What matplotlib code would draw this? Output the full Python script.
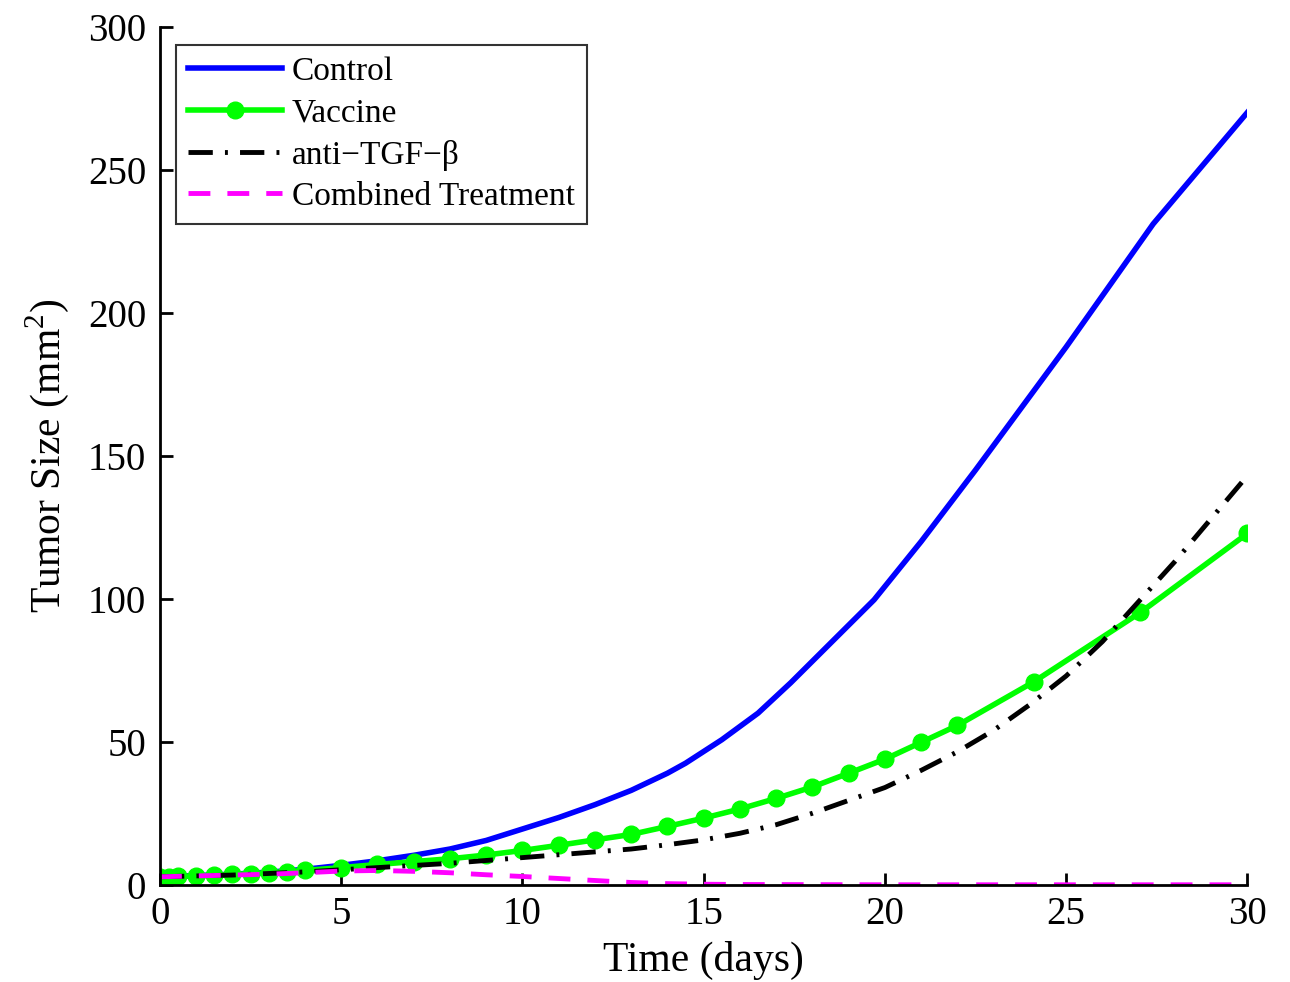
import matplotlib.pyplot as plt

plt.rcParams['font.family'] = ['Liberation Serif', 'DejaVu Serif']
plt.rcParams['mathtext.fontset'] = 'custom'
plt.rcParams['mathtext.rm'] = 'Liberation Serif'

# Control
t_ctrl = [0, 1, 2, 3, 4, 5, 6, 7, 8, 9, 10, 11, 12, 13, 14, 14.5, 15.5, 16.5, 17.4, 19.7, 21, 22.5, 25, 27.4, 30]
y_ctrl = [2.8, 3.2, 3.7, 4.4, 5.4, 6.8, 8.4, 10.3, 12.5, 15.5, 19.5, 23.5, 28, 33, 39, 42.5, 50.7, 60, 70.6, 99.6, 120, 145, 188, 231, 270]

# Vaccine
t_vac = [0, 0.25, 0.5, 1, 1.5, 2, 2.5, 3, 3.5, 4, 5, 6, 7, 8, 9, 10, 11, 12, 13, 14, 15, 16, 17, 18, 19, 20, 21, 22, 24.1, 27.05, 30]
y_vac = [2.8, 2.85, 2.9, 3.1, 3.3, 3.6, 3.9, 4.2, 4.6, 5.0, 6.0, 7.1, 8.1, 9.1, 10.4, 12.0, 13.8, 15.7, 17.6, 20.4, 23.3, 26.5, 30.2, 34.2, 39.0, 43.9, 49.8, 55.7, 70.9, 95.2, 122.8]

# anti-TGF-beta
t_tgf = [0, 2, 4, 6, 8, 10, 12, 13, 14, 15, 16, 17, 18, 19, 20, 21, 22, 23, 24, 25, 26, 27, 28, 29, 30]
y_tgf = [2.8, 3.4, 4.5, 6.0, 7.5, 9.5, 11.5, 12.5, 14.0, 15.7, 18.0, 21.0, 25.0, 29.5, 34.0, 40.0, 46.5, 54.0, 63.0, 73.0, 85.0, 99.0, 113.0, 128.0, 143.0]

# Combined treatment
t_comb = [0, 1, 2, 3, 4, 5, 6, 7, 8, 9, 10, 11, 12, 13, 14, 15, 16, 18, 20, 25, 30]
y_comb = [2.8, 3.1, 3.4, 3.7, 4.2, 4.8, 5.0, 4.7, 4.2, 3.5, 2.9, 2.2, 1.5, 0.8, 0.4, 0.2, 0.1, 0.05, 0.0, 0.0, 0.0]

fig = plt.figure(figsize=(12.9, 9.82), dpi=100)
ax = fig.add_axes([0.124, 0.099, 0.843, 0.874])

ax.plot(t_ctrl, y_ctrl, color='#0000ff', lw=4, label='Control')
ax.plot(t_vac, y_vac, color='#00ff00', lw=4, marker='o', markersize=12, label='Vaccine')
ax.plot(t_tgf, y_tgf, color='black', lw=3.5, linestyle=(0, (5, 2.5, 0.6, 2.5)), label='anti\u2212TGF\u2212\u03b2')
ax.plot(t_comb, y_comb, color='#ff00ff', lw=3.5, linestyle=(0, (4.5, 3.5)), label='Combined Treatment')

ax.set_xlim(0, 30)
ax.set_ylim(0, 300)
ax.set_xticks([0, 5, 10, 15, 20, 25, 30])
ax.set_yticks([0, 50, 100, 150, 200, 250, 300])
ax.spines['top'].set_visible(False)
ax.spines['right'].set_visible(False)
for s in ['left', 'bottom']:
    ax.spines[s].set_linewidth(2)
ax.tick_params(direction='in', length=9, width=2, labelsize=28)
ax.tick_params(axis='x', pad=8)
ax.tick_params(axis='y', pad=10)
ax.set_xlabel('Time (days)', fontsize=30, labelpad=6)
ax.set_ylabel('Tumor Size (mm$^2$)', fontsize=30, labelpad=12)

leg = ax.legend(loc='upper left', bbox_to_anchor=(0.015, 0.979), fontsize=24,
                frameon=True, fancybox=False, edgecolor='black', handlelength=2.8,
                borderpad=0.36, labelspacing=0.33, handletextpad=0.3, borderaxespad=0)
leg.get_frame().set_linewidth(1.5)

fig.savefig('out.png', dpi=100)
